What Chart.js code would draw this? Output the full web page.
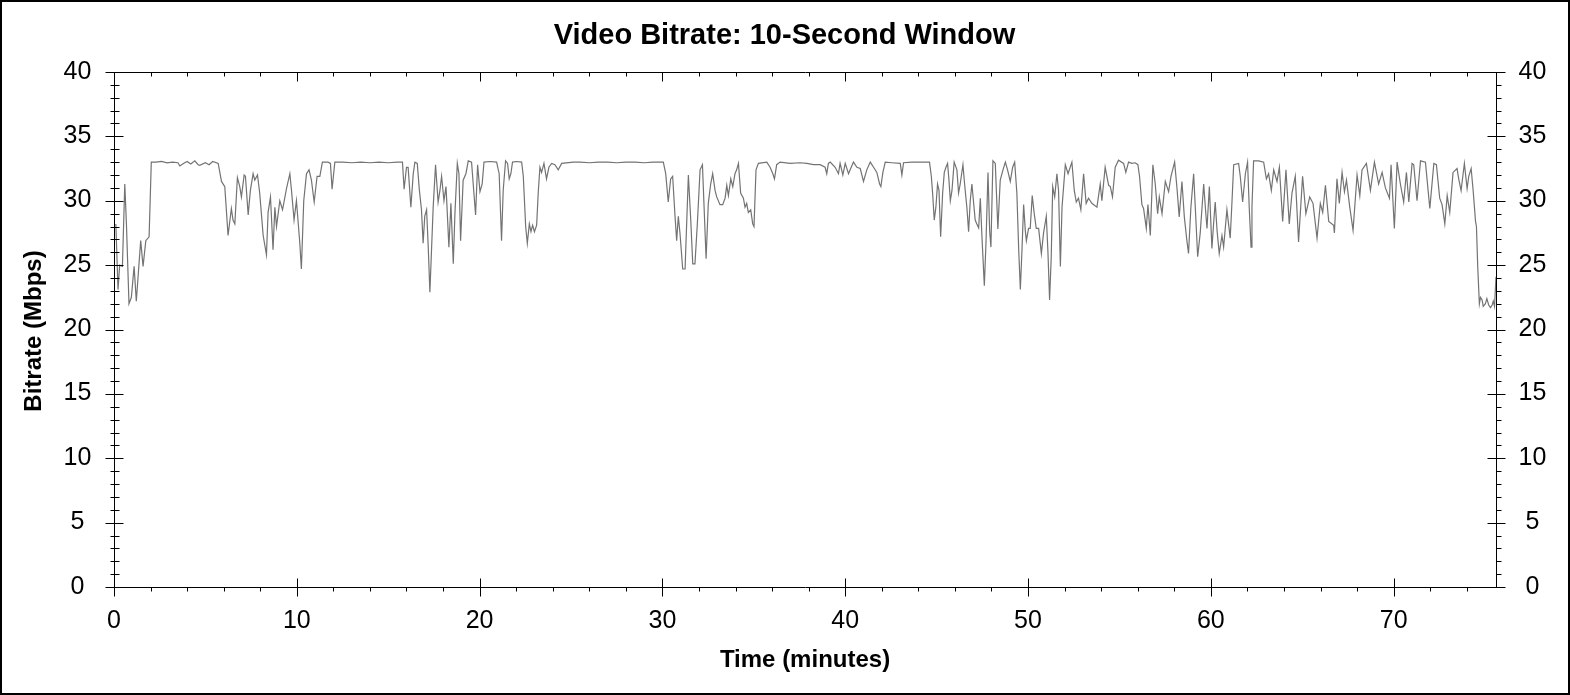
<!DOCTYPE html>
<html>
<head>
<meta charset="utf-8">
<style>
html,body{margin:0;padding:0;background:#fff;}
#wrap{width:1570px;height:695px;}
canvas{display:block;}
</style>
<script src="https://cdn.jsdelivr.net/npm/chart.js@4/dist/chart.umd.min.js"></script>
</head>
<body>
<div id="wrap"><canvas id="c" width="1570" height="695"></canvas></div>
<script>
const chartTitle = "Video Bitrate: 10-Second Window";
const xAxisTitle = "Time (minutes)";
const yAxisTitle = "Bitrate (Mbps)";
const xTickValues = [0,10,20,30,40,50,60,70];
const yTickValues = [0,5,10,15,20,25,30,35,40];

const times = [
0.10,0.22,0.31,0.46,0.59,0.68,0.82,0.95,1.10,1.22,1.46,1.59,1.74,1.92,2.04,2.30,2.60,2.90,3.20,3.50,
3.60,3.80,4.00,4.20,4.42,4.60,4.69,5.00,5.20,5.40,5.70,5.88,6.06,6.24,6.42,6.51,6.61,6.75,6.88,6.97,
7.12,7.19,7.34,7.46,7.61,7.70,7.85,7.97,8.16,8.34,8.43,8.56,8.70,8.80,8.89,9.07,9.22,9.43,9.62,9.71,
9.85,9.98,10.16,10.25,10.38,10.53,10.67,10.80,10.95,11.11,11.26,11.40,11.71,11.84,11.93,12.08,12.50,13.00,13.50,14.00,
14.50,15.00,15.50,15.78,15.87,16.00,16.09,16.24,16.37,16.46,16.59,16.70,16.82,16.91,17.00,17.10,17.19,17.28,17.46,17.59,
17.73,17.83,17.92,18.05,18.16,18.19,18.32,18.43,18.56,18.65,18.78,18.87,18.96,19.10,19.25,19.38,19.56,19.65,19.78,19.89,
20.02,20.14,20.24,20.56,20.93,21.07,21.20,21.29,21.42,21.53,21.62,21.71,21.80,22.02,22.30,22.39,22.52,22.61,22.72,22.81,
22.90,23.00,23.12,23.21,23.30,23.39,23.52,23.66,23.79,23.94,24.12,24.30,24.49,25.12,25.50,26.00,26.50,27.00,27.50,28.00,
28.50,29.00,29.50,30.05,30.18,30.32,30.45,30.56,30.69,30.78,30.87,30.96,31.11,31.24,31.42,31.55,31.66,31.78,31.91,32.06,
32.19,32.28,32.39,32.51,32.64,32.75,32.88,32.97,33.15,33.30,33.43,33.52,33.61,33.74,33.85,33.97,34.06,34.16,34.28,34.43,
34.52,34.61,34.70,34.83,34.94,35.01,35.12,35.25,35.71,35.89,36.04,36.13,36.25,36.44,36.98,37.53,37.90,38.26,38.63,38.90,
38.99,39.08,39.18,39.45,39.63,39.72,39.87,40.00,40.18,40.45,40.64,40.82,41.00,41.18,41.37,41.55,41.73,41.88,41.95,42.06,
42.19,42.55,43.01,43.10,43.19,43.65,44.10,44.61,44.71,44.78,44.87,44.96,45.05,45.13,45.22,45.33,45.42,45.51,45.60,45.67,
45.75,45.84,45.96,46.11,46.20,46.29,46.44,46.53,46.66,46.75,46.84,46.93,47.02,47.11,47.20,47.30,47.39,47.48,47.61,47.70,
47.81,47.90,47.97,48.08,48.21,48.35,48.48,48.63,48.76,48.88,49.03,49.16,49.27,49.39,49.49,49.58,49.67,49.76,49.85,49.91,
50.03,50.12,50.23,50.34,50.45,50.58,50.73,50.85,51.00,51.09,51.18,51.27,51.35,51.46,51.58,51.67,51.77,51.86,52.04,52.19,
52.40,52.53,52.64,52.76,52.89,53.04,53.18,53.31,53.49,53.77,53.95,54.04,54.22,54.41,54.50,54.62,54.77,54.95,55.23,55.35,
55.50,55.68,55.86,56.01,56.10,56.23,56.32,56.47,56.56,56.69,56.83,56.96,57.09,57.18,57.33,57.51,57.69,57.82,58.02,58.15,
58.27,58.42,58.55,58.69,58.78,58.91,59.06,59.15,59.28,59.42,59.61,59.70,59.79,59.92,60.06,60.15,60.24,60.34,60.46,60.61,
60.70,60.88,61.06,61.16,61.25,61.52,61.61,61.74,61.89,62.01,62.10,62.20,62.25,62.34,62.62,62.89,63.04,63.16,63.31,63.44,
63.62,63.75,63.93,64.11,64.29,64.44,64.62,64.80,65.02,65.20,65.41,65.59,65.81,65.99,66.12,66.27,66.45,66.72,66.76,66.90,
67.03,67.18,67.31,67.42,67.60,67.78,68.00,68.15,68.27,68.51,68.73,68.95,69.18,69.37,69.55,69.77,69.86,70.04,70.19,70.37,
70.55,70.70,70.83,71.01,71.10,71.28,71.47,71.74,71.98,72.20,72.34,72.52,72.65,72.80,72.93,73.07,73.25,73.47,73.56,73.69,
73.87,74.02,74.11,74.24,74.35,74.48,74.53,74.60,74.69,74.75,74.84,74.90,75.02,75.10,75.20,75.30,75.39,75.45,75.52,75.60
];

const bitrate = [
28.2,23.1,25.0,24.9,31.3,28.2,22.0,22.5,24.9,22.2,26.9,24.9,26.9,27.2,33.0,33.0,33.05,32.95,33.0,32.95,
32.7,32.9,33.05,32.85,33.1,32.8,32.75,32.95,32.8,33.05,32.9,31.5,31.1,27.3,29.4,28.5,28.2,31.8,31.1,30.3,
32.0,31.9,28.9,30.8,32.1,31.6,32.0,30.6,27.3,25.8,29.1,30.3,26.2,29.5,28.0,30.0,29.3,30.9,32.1,30.8,
28.5,30.0,26.8,24.7,30.0,32.1,32.4,31.6,29.9,31.9,31.9,33.0,33.0,32.9,30.9,33.0,33.0,32.95,33.0,32.95,
33.0,32.95,33.0,33.0,30.9,32.6,32.6,29.5,32.1,33.0,32.9,30.9,29.3,26.7,28.8,29.3,26.4,22.9,29.5,32.8,
29.9,30.8,31.9,30.0,31.1,30.3,26.4,29.8,25.1,29.0,32.9,32.1,26.9,31.6,32.1,33.1,33.0,31.3,28.9,32.8,
30.7,31.3,33.0,33.05,33.0,32.1,26.9,30.8,33.1,32.9,31.7,32.1,33.0,33.05,33.0,31.9,28.0,26.7,28.2,27.6,
28.1,27.6,28.1,30.7,32.6,32.2,32.9,31.7,32.6,32.9,32.8,32.4,32.9,33.0,33.0,32.95,33.0,33.0,32.95,33.0,
33.0,32.95,33.0,33.0,32.1,29.9,31.7,31.9,28.8,26.9,28.8,27.5,24.7,24.7,32.0,28.5,25.1,25.1,28.2,32.4,
32.8,29.5,25.5,29.8,31.3,32.1,30.8,30.3,29.7,29.7,30.2,31.2,30.4,31.7,31.1,32.1,32.4,32.9,30.6,30.2,
29.5,29.8,29.1,29.3,28.2,28.0,32.4,32.9,33.0,32.6,32.1,31.7,32.8,33.0,32.9,32.95,32.9,32.8,32.8,32.6,
32.1,32.9,33.0,32.6,32.1,32.9,32.0,32.9,32.1,33.0,32.6,32.5,31.5,32.4,33.0,32.6,32.2,31.3,31.1,32.2,
33.0,32.95,32.9,32.0,32.95,33.0,33.0,33.0,31.9,30.6,28.5,29.5,31.3,30.8,27.2,30.6,32.2,32.6,32.9,31.7,
30.0,30.8,33.0,32.4,30.6,31.3,32.8,31.3,29.4,27.6,30.0,31.3,29.9,28.5,28.2,27.9,30.2,27.2,23.4,26.7,
32.2,27.7,26.4,33.1,32.9,27.8,31.6,32.4,33.0,32.4,31.5,32.6,33.0,30.6,26.2,23.1,26.2,29.7,27.7,26.9,
27.85,27.85,30.4,29.0,27.85,27.85,25.9,27.5,28.8,26.0,22.3,25.65,31.1,30.3,32.1,30.8,24.9,29.5,32.8,32.1,
33.0,30.8,29.9,30.2,29.3,32.1,29.8,30.2,29.8,29.5,31.3,30.0,32.6,31.2,31.1,30.3,32.6,33.15,32.9,32.2,
33.0,32.9,32.95,32.8,31.9,29.7,29.4,27.85,29.7,27.3,32.8,31.3,29.0,30.3,29.0,31.5,30.7,31.9,33.0,30.95,
28.75,31.5,28.75,26.9,25.9,29.5,32.1,29.5,25.65,27.5,31.3,29.5,27.85,31.1,26.3,28.2,29.9,27.7,25.9,27.3,
26.4,29.3,27.1,30.0,32.8,32.9,31.9,29.9,32.1,33.0,29.5,26.4,29.5,33.1,33.1,33.0,31.7,32.1,30.8,32.4,
31.5,32.6,28.4,32.4,28.2,30.6,31.9,26.8,31.9,29.0,30.3,29.8,27.1,29.8,29.1,31.2,28.4,28.1,27.5,31.7,
29.8,32.2,30.7,31.6,29.5,27.7,32.0,30.4,32.4,32.9,30.8,33.0,31.3,32.2,31.0,30.2,32.8,27.85,33.0,31.3,
29.9,32.2,29.9,32.9,32.8,30.0,33.1,33.0,29.4,32.9,32.8,30.2,29.7,28.2,30.4,29.1,32.2,32.5,31.7,30.8,
32.9,30.95,31.9,32.5,30.8,28.4,28.0,24.9,22.0,22.5,22.3,21.8,22.0,22.4,21.9,21.7,21.9,22.2,21.8,24.1
];

const X_MIN = 0, X_MAX = 75.6, Y_MIN = 0, Y_MAX = 40;

const frame = {
  id: 'frame',
  afterDraw(chart) {
    const ctx = chart.ctx;
    const a = chart.chartArea;
    const xs = chart.scales.x, ys = chart.scales.y;
    const L = Math.round(a.left) + 0.5, R = Math.round(a.right) + 0.5;
    const T = Math.round(a.top) + 0.5, B = Math.round(a.bottom) + 0.5;
    ctx.save();
    ctx.strokeStyle = '#000';
    ctx.lineWidth = 1;
    const line = (x1, y1, x2, y2) => { ctx.beginPath(); ctx.moveTo(x1, y1); ctx.lineTo(x2, y2); ctx.stroke(); };
    line(L, T, R, T); line(L, B, R, B); line(L, T, L, B); line(R, T, R, B);
    for (let v = Y_MIN; v <= Y_MAX; v += 1) {
      const py = Math.round(ys.getPixelForValue(v)) + 0.5;
      if (v % 5 === 0) {
        line(L - 9, py, L + 9, py);
        line(R - 9, py, R + 9, py);
      } else {
        line(L - 4, py, L + 5, py);
        line(R, py, R + 5, py);
      }
    }
    for (let t = 0; t <= X_MAX; t += 2) {
      const px = Math.round(xs.getPixelForValue(t)) + 0.5;
      if (t % 10 === 0) {
        line(px, B - 9, px, B + 9);
        line(px, T, px, T + 9);
      } else {
        line(px, B, px, B + 4);
        line(px, T, px, T + 4);
      }
    }
    ctx.fillStyle = '#000';
    ctx.font = '25px "Liberation Sans", Arial, sans-serif';
    ctx.textAlign = 'center';
    ctx.textBaseline = 'alphabetic';
    yTickValues.forEach(v => {
      const py = ys.getPixelForValue(v);
      ctx.fillText(String(v), 77.5, py + 6.5);
      ctx.fillText(String(v), 1532.5, py + 6.5);
    });
    xTickValues.forEach(t => {
      const px = xs.getPixelForValue(t);
      ctx.fillText(String(t), px, 628);
    });
    ctx.font = 'bold 29px "Liberation Sans", Arial, sans-serif';
    ctx.fillText(chartTitle, 784.5, 43.5);
    ctx.font = 'bold 24px "Liberation Sans", Arial, sans-serif';
    ctx.fillText(xAxisTitle, (a.left + a.right) / 2, 667);
    ctx.save();
    ctx.translate(40.5, (a.top + a.bottom) / 2 + 1.5);
    ctx.rotate(-Math.PI / 2);
    ctx.fillText(yAxisTitle, 0, 0);
    ctx.restore();
    ctx.lineWidth = 2;
    ctx.strokeRect(1, 1, chart.width - 2, chart.height - 2);
    ctx.restore();
  }
};

new Chart(document.getElementById('c'), {
  type: 'line',
  data: {
    datasets: [{
      label: 'Video Bitrate',
      data: times.map((t, i) => ({ x: t, y: bitrate[i] })),
      borderColor: '#737373',
      borderWidth: 1.2,
      pointRadius: 0,
      tension: 0,
      fill: false
    }]
  },
  options: {
    responsive: false,
    animation: false,
    devicePixelRatio: 1,
    layout: { padding: { left: 114, top: 72, right: 74, bottom: 108 } },
    plugins: { legend: { display: false }, title: { display: false }, tooltip: { enabled: false } },
    scales: {
      x: { type: 'linear', min: X_MIN, max: X_MAX, display: false },
      y: { type: 'linear', min: Y_MIN, max: Y_MAX, display: false }
    }
  },
  plugins: [frame]
});
</script>
</body>
</html>
